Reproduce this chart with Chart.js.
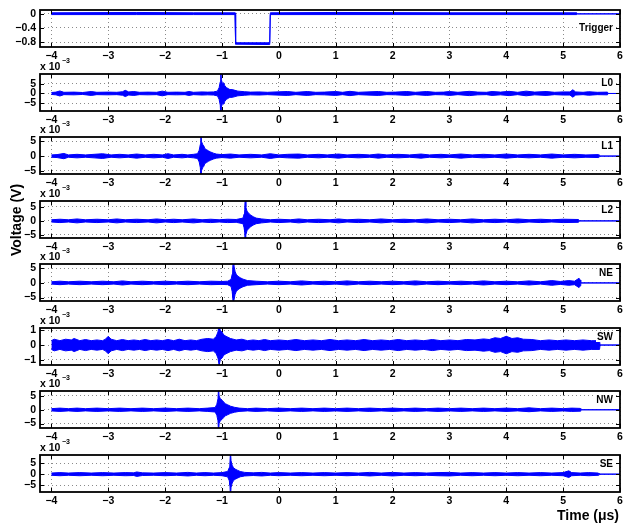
<!DOCTYPE html>
<html><head><meta charset="utf-8">
<script src="https://cdn.jsdelivr.net/npm/chart.js@4.4.1/dist/chart.umd.min.js"></script>
<style>
body{margin:0;background:#fff;width:629px;height:523px;position:relative;overflow:hidden;font-family:"Liberation Sans",Arial,sans-serif;}
canvas{position:absolute;left:0;}
.t{position:absolute;font-weight:bold;color:#000;white-space:nowrap;}
</style></head><body>
<script>
// ---- data (time in µs, amplitude in display units) ----
const channels = ["Trigger","L0","L1","L2","NE","SW","NW","SE"];
const xTicks = [-4,-3,-2,-1,0,1,2,3,4,5,6];
const yTicksTrigger = [0,-0.4,-0.8];
const yTicksMilli = [5,0,-5];
const yTicksSW = [1,0,-1];
const yMin = {Trigger:-0.94, L0:-9, L1:-6.1, L2:-6.1, NE:-6.2, SW:-1.37, NW:-6.6, SE:-8};
const yMax = {Trigger:0.11, L0:10, L1:6.5, L2:7.1, NE:6.5, SW:1.17, NW:6.8, SE:8.6};

// Trigger: [time, upper, lower]
const Trigger = [[-4,0.03,-0.02],[-2.5,0.04,-0.02],[-1.5,0.03,-0.02],[-0.77,0.03,-0.02],[-0.76,-0.82,-0.86],[-0.16,-0.82,-0.87],[-0.15,0.03,-0.02],[1.0,0.04,-0.02],[3.0,0.03,-0.02],[5.24,0.03,-0.02],[5.25,0,0],[6,0,0]];
// other channels: [time, envelope half-amplitude]
const L0 = [[-4,0.5],[-3.92,0.7],[-3.85,1.3],[-3.78,0.6],[-3.6,0.7],[-3.45,0.5],[-3.3,1.0],[-3.2,0.6],[-3.0,0.7],[-2.85,0.6],[-2.75,0.9],[-2.7,1.6],[-2.64,0.8],[-2.55,1.0],[-2.45,0.6],[-2.3,0.7],[-2.15,0.6],[-2.05,1.2],[-1.95,0.6],[-1.8,0.7],[-1.65,0.6],[-1.58,1.0],[-1.5,0.6],[-1.35,0.8],[-1.25,0.7],[-1.15,0.8],[-1.08,1.2],[-1.05,3],[-1.03,6],[-1.02,12],[-1.01,7],[-0.99,5],[-0.97,5.5],[-0.95,4],[-0.92,3],[-0.89,2.5],[-0.86,2],[-0.82,2],[-0.77,1.6],[-0.72,1.2],[-0.6,0.9],[-0.5,0.7],[-0.35,0.8],[-0.2,0.6],[-0.05,0.8],[0.15,1.0],[0.3,0.6],[0.5,1.0],[0.65,0.6],[0.8,0.7],[1.0,1.0],[1.12,0.6],[1.25,1.1],[1.4,0.6],[1.55,0.8],[1.75,1.0],[1.9,0.6],[2.05,0.7],[2.25,1.0],[2.4,0.6],[2.6,1.0],[2.75,0.6],[2.9,0.7],[3.0,1.0],[3.15,0.6],[3.35,1.1],[3.5,0.7],[3.65,0.6],[3.75,1.0],[3.9,0.7],[4.05,1.1],[4.2,0.6],[4.35,1.2],[4.5,0.7],[4.7,1.0],[4.85,0.6],[5.0,0.8],[5.12,0.8],[5.17,1.9],[5.22,0.8],[5.35,0.6],[5.45,0.9],[5.6,0.6],[5.78,0.7],[5.79,0],[6,0]];
const L1 = [[-4,0.4],[-3.9,0.5],[-3.78,0.9],[-3.7,0.4],[-3.55,0.6],[-3.4,0.4],[-3.25,0.6],[-3.1,0.8],[-2.95,0.4],[-2.8,0.6],[-2.65,0.4],[-2.5,0.7],[-2.35,0.4],[-2.2,0.6],[-2.05,0.4],[-1.95,0.8],[-1.85,0.4],[-1.7,0.6],[-1.6,0.4],[-1.5,0.6],[-1.43,0.8],[-1.40,2],[-1.38,4],[-1.37,8],[-1.36,5],[-1.34,4],[-1.32,3.5],[-1.3,2.5],[-1.27,2.2],[-1.24,1.8],[-1.2,1.4],[-1.15,1.0],[-1.1,0.7],[-1.0,0.5],[-0.85,0.7],[-0.7,0.4],[-0.5,0.6],[-0.3,0.4],[-0.15,0.8],[0,0.4],[0.15,0.6],[0.35,0.7],[0.5,0.4],[0.7,0.6],[0.85,0.4],[1.05,0.7],[1.2,0.4],[1.4,0.6],[1.6,0.4],[1.75,0.7],[1.9,0.4],[2.1,0.6],[2.3,0.4],[2.5,0.7],[2.65,0.4],[2.85,0.6],[3.0,0.4],[3.2,0.7],[3.4,0.4],[3.6,0.6],[3.8,0.4],[4.0,0.7],[4.2,0.4],[4.4,0.6],[4.6,0.4],[4.8,0.7],[5.0,0.4],[5.2,0.6],[5.4,0.4],[5.62,0.5],[5.63,0],[6,0]];
const L2 = [[-4,0.4],[-3.85,0.6],[-3.7,0.4],[-3.55,0.7],[-3.4,0.4],[-3.2,0.6],[-3.0,0.4],[-2.85,0.7],[-2.7,0.4],[-2.5,0.6],[-2.3,0.4],[-2.15,0.7],[-2.0,0.4],[-1.85,0.6],[-1.7,0.4],[-1.5,0.7],[-1.35,0.4],[-1.2,0.6],[-1.05,0.4],[-0.9,0.6],[-0.75,0.5],[-0.63,1.0],[-0.61,2.5],[-0.6,4],[-0.59,9],[-0.58,5],[-0.56,3.5],[-0.54,3],[-0.52,2.5],[-0.49,2],[-0.45,1.5],[-0.4,1.0],[-0.3,0.7],[-0.15,0.4],[0,0.6],[0.2,0.4],[0.35,0.7],[0.5,0.4],[0.7,0.6],[0.9,0.4],[1.05,0.7],[1.2,0.4],[1.4,0.6],[1.6,0.4],[1.8,0.7],[2.0,0.4],[2.2,0.6],[2.4,0.4],[2.6,0.7],[2.8,0.4],[3.0,0.6],[3.2,0.4],[3.4,0.7],[3.6,0.4],[3.8,0.6],[4.0,0.4],[4.2,0.7],[4.4,0.4],[4.6,0.6],[4.8,0.4],[5.0,0.6],[5.27,0.5],[5.28,0],[6,0]];
const NE = [[-4,0.4],[-3.85,0.6],[-3.7,0.4],[-3.5,0.6],[-3.3,0.4],[-3.1,0.6],[-2.9,0.4],[-2.75,0.7],[-2.6,0.4],[-2.4,0.6],[-2.2,0.4],[-2.0,0.6],[-1.8,0.4],[-1.6,0.6],[-1.4,0.4],[-1.2,0.6],[-1.0,0.5],[-0.9,0.6],[-0.84,1.2],[-0.82,3],[-0.81,5],[-0.8,9],[-0.79,6],[-0.77,4],[-0.75,3],[-0.72,2.3],[-0.68,1.8],[-0.63,1.3],[-0.55,0.8],[-0.4,0.6],[-0.2,0.4],[0,0.6],[0.2,0.4],[0.4,0.7],[0.6,0.4],[0.8,0.6],[1.0,0.4],[1.2,0.7],[1.4,0.4],[1.6,0.6],[1.8,0.4],[2.0,0.6],[2.2,0.4],[2.4,0.7],[2.6,0.4],[2.8,0.6],[3.0,0.4],[3.2,0.6],[3.4,0.4],[3.6,0.7],[3.8,0.4],[4.0,0.6],[4.2,0.4],[4.4,0.7],[4.6,0.4],[4.8,0.8],[4.95,0.5],[5.1,0.8],[5.2,0.6],[5.28,1.6],[5.3,1],[5.31,0],[6,0]];
const SW = [[-4,0.3],[-3.95,0.4],[-3.85,0.3],[-3.75,0.4],[-3.65,0.35],[-3.6,0.45],[-3.5,0.3],[-3.4,0.38],[-3.3,0.3],[-3.2,0.35],[-3.1,0.3],[-3.05,0.4],[-3.0,0.6],[-2.95,0.4],[-2.85,0.3],[-2.75,0.38],[-2.65,0.3],[-2.55,0.35],[-2.45,0.3],[-2.35,0.38],[-2.25,0.3],[-2.15,0.35],[-2.05,0.3],[-1.95,0.38],[-1.85,0.3],[-1.75,0.4],[-1.65,0.3],[-1.55,0.35],[-1.45,0.3],[-1.35,0.4],[-1.25,0.45],[-1.15,0.4],[-1.1,0.6],[-1.07,0.9],[-1.05,1.4],[-1.03,1.0],[-1.0,0.9],[-0.97,0.7],[-0.93,0.6],[-0.85,0.45],[-0.75,0.35],[-0.65,0.4],[-0.55,0.3],[-0.45,0.35],[-0.35,0.3],[-0.25,0.38],[-0.15,0.3],[0,0.35],[0.15,0.3],[0.3,0.38],[0.45,0.3],[0.6,0.35],[0.75,0.3],[0.9,0.38],[1.05,0.3],[1.2,0.35],[1.35,0.3],[1.5,0.38],[1.65,0.3],[1.8,0.35],[1.95,0.3],[2.1,0.38],[2.25,0.3],[2.4,0.35],[2.55,0.3],[2.7,0.38],[2.85,0.3],[3.0,0.35],[3.15,0.3],[3.3,0.38],[3.45,0.35],[3.6,0.42],[3.7,0.38],[3.8,0.5],[3.9,0.45],[4.0,0.6],[4.1,0.45],[4.2,0.5],[4.3,0.4],[4.45,0.38],[4.6,0.3],[4.75,0.35],[4.9,0.3],[5.05,0.35],[5.2,0.3],[5.35,0.35],[5.5,0.3],[5.64,0.3],[5.65,0],[6,0]];
const NW = [[-4,0.4],[-3.85,0.6],[-3.7,0.4],[-3.55,0.6],[-3.4,0.4],[-3.2,0.6],[-3.0,0.4],[-2.8,0.6],[-2.6,0.4],[-2.4,0.6],[-2.2,0.4],[-2.0,0.6],[-1.8,0.4],[-1.6,0.6],[-1.4,0.4],[-1.25,0.6],[-1.12,0.8],[-1.09,2],[-1.07,4],[-1.06,8],[-1.05,5],[-1.03,4],[-1.0,3.5],[-0.97,2.8],[-0.94,2.2],[-0.9,1.8],[-0.85,1.3],[-0.78,0.9],[-0.7,0.6],[-0.55,0.4],[-0.4,0.6],[-0.2,0.4],[0,0.6],[0.2,0.4],[0.4,0.6],[0.6,0.4],[0.8,0.6],[1.0,0.4],[1.2,0.6],[1.4,0.4],[1.6,0.6],[1.8,0.4],[2.0,0.6],[2.2,0.4],[2.4,0.6],[2.6,0.4],[2.8,0.6],[3.0,0.4],[3.2,0.6],[3.4,0.4],[3.6,0.6],[3.8,0.4],[4.0,0.6],[4.2,0.4],[4.4,0.7],[4.6,0.4],[4.8,0.6],[5.0,0.4],[5.15,0.6],[5.3,0.5],[5.31,0],[6,0]];
const SE = [[-4,0.5],[-3.85,0.7],[-3.7,0.5],[-3.5,0.7],[-3.3,0.5],[-3.1,0.7],[-2.9,0.5],[-2.7,0.7],[-2.55,0.6],[-2.5,1.0],[-2.4,0.6],[-2.2,0.5],[-2.0,0.7],[-1.8,0.5],[-1.6,0.8],[-1.45,0.5],[-1.3,0.7],[-1.15,0.5],[-1.0,0.7],[-0.9,1.2],[-0.87,3],[-0.86,5],[-0.85,10],[-0.84,6],[-0.82,4],[-0.8,3],[-0.77,2.3],[-0.73,1.8],[-0.68,1.2],[-0.6,0.8],[-0.45,0.6],[-0.3,0.8],[-0.15,0.5],[0,0.7],[0.2,0.5],[0.4,0.7],[0.6,0.5],[0.8,0.7],[1.0,0.5],[1.2,0.7],[1.4,0.5],[1.6,0.8],[1.8,0.5],[2.0,0.8],[2.2,0.5],[2.4,0.7],[2.6,0.5],[2.8,0.7],[3.0,0.8],[3.2,0.5],[3.4,0.7],[3.6,0.5],[3.8,0.7],[4.0,0.5],[4.2,0.7],[4.4,0.5],[4.6,0.7],[4.8,0.5],[5.0,0.7],[5.1,1.5],[5.15,0.7],[5.3,0.5],[5.45,0.7],[5.62,0.5],[5.63,0],[6,0]];
const series = {Trigger, L0, L1, L2, NE, SW, NW, SE};

// ---- layout ----
const panelTop = [10,74,137,201,264,328,391,455];
const PH = 37, PADTOP = 14, XAXH = 18, LEFT = 40, RIGHT = 620, W = 629;
const BLUE = '#0000ff';

const framePlugin = {
  id:'frame',
  afterDraw(chart){
    const {ctx, chartArea:{left,right,top,bottom}, scales:{x,y}} = chart;
    ctx.save();
    ctx.strokeStyle='#000'; ctx.lineWidth=1;
    ctx.beginPath();
    x.ticks.forEach(t=>{const p=Math.round(x.getPixelForValue(t.value))+0.5;
      ctx.moveTo(p,top); ctx.lineTo(p,top+4); ctx.moveTo(p,bottom); ctx.lineTo(p,bottom-4);});
    y.ticks.forEach(t=>{const p=Math.round(y.getPixelForValue(t.value))+0.5;
      ctx.moveTo(left,p); ctx.lineTo(left+4,p); ctx.moveTo(right,p); ctx.lineTo(right-4,p);});
    ctx.stroke();
    ctx.lineWidth=1.8;
    ctx.strokeRect(left,top,right-left,bottom-top);
    ctx.restore();
  }
};

function addText(txt, css){
  const d=document.createElement('div'); d.className='t'; d.innerHTML=txt;
  Object.assign(d.style, css); document.body.appendChild(d); return d;
}

channels.forEach((name,i)=>{
  const cv=document.createElement('canvas');
  const H = PADTOP+PH+XAXH;
  cv.width=W; cv.height=H; cv.style.top=(panelTop[i]-PADTOP)+'px';
  document.body.appendChild(cv);
  const s=series[name];
  let upper, lower;
  if(name==='Trigger'){
    upper=s.map(p=>({x:p[0],y:p[1]})); lower=s.map(p=>({x:p[0],y:p[2]}));
  } else {
    upper=s.map(p=>({x:p[0],y:p[1]})); lower=s.map(p=>({x:p[0],y:-p[1]}));
  }
  const yt = name==='Trigger'?yTicksTrigger:(name==='SW'?yTicksSW:yTicksMilli);
  const fmt = v => (v<0?'\u2212':'')+Math.abs(v);
  const tickFont={family:'"Liberation Sans", Arial, sans-serif', size:10.5, weight:'bold'};
  new Chart(cv,{
    type:'line',
    data:{datasets:[
      {data:upper, borderColor:BLUE, borderWidth:1, pointRadius:0, tension:0, fill:false},
      {data:lower, borderColor:BLUE, borderWidth:1, pointRadius:0, tension:0, fill:'-1', backgroundColor:BLUE}
    ]},
    options:{
      responsive:false, animation:false, devicePixelRatio:1,
      layout:{padding:{top:PADTOP,right:W-RIGHT,left:0,bottom:0}},
      plugins:{legend:{display:false},tooltip:{enabled:false}},
      scales:{
        x:{type:'linear',min:-4.2,max:6,
          afterBuildTicks:sc=>{sc.ticks=xTicks.map(v=>({value:v}));},
          afterFit:sc=>{sc.height=XAXH;},
          ticks:{font:tickFont,color:'#000',padding:3,maxRotation:0,autoSkip:false,callback:fmt},
          grid:{color:'#8a8a8a',lineWidth:1,drawTicks:false},
          border:{display:false,dash:[1,3]}},
        y:{type:'linear',min:yMin[name],max:yMax[name],
          afterBuildTicks:sc=>{sc.ticks=yt.map(v=>({value:v}));},
          afterFit:sc=>{sc.width=LEFT;},
          ticks:{font:tickFont,color:'#000',padding:4,autoSkip:false,callback:fmt},
          grid:{color:'#8a8a8a',lineWidth:1,drawTicks:false},
          border:{display:false,dash:[1,3]}}
      }
    },
    plugins:[framePlugin]
  });
  const labTop = name==='Trigger' ? panelTop[i]+13 : panelTop[i]+3.5;
  addText(name,{fontSize:'10px',lineHeight:'10px',right:(W-614)+'px',top:labTop+'px',background:'#fff',padding:'0 1px'});
  if(name!=='Trigger'){
    addText('x 10',{fontSize:'10.5px',lineHeight:'10px',left:'40px',top:(panelTop[i]-13.5)+'px'});
    addText('\u22123',{fontSize:'7px',lineHeight:'7px',left:'62px',top:(panelTop[i]-17.5)+'px'});
  }
});
addText('Voltage (V)',{fontSize:'14px',lineHeight:'14px',left:'16px',top:'220px',transform:'translate(-50%,-50%) rotate(-90deg)'});
addText('Time (\u03bcs)',{fontSize:'14px',lineHeight:'14px',right:(W-619)+'px',top:'508px'});
</script>
</body></html>
